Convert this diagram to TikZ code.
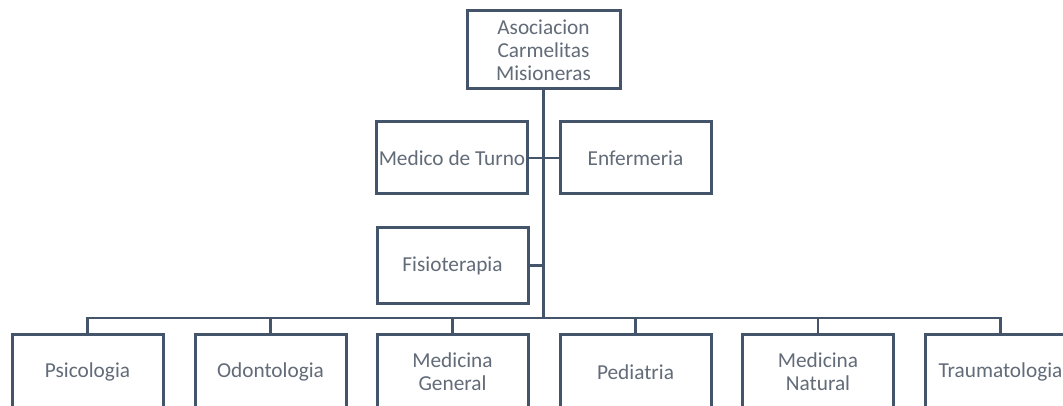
\documentclass[tikz,border=0pt]{standalone}
\usepackage{fontspec}
\setmainfont{Carlito}
\usepackage{tikz}
\definecolor{boxline}{HTML}{44546A}
\definecolor{boxtext}{HTML}{626B78}

\begin{document}
\begin{tikzpicture}[x=1pt,y=-1pt,
    unit/.style={draw=boxline,line width=3pt,fill=white,text=boxtext,
      minimum width=151pt,minimum height=75pt,inner sep=0pt,align=center,
      font=\fontsize{21.3}{23}\selectfont},
    link/.style={draw=boxline,line width=2.6pt}]
    \clip (0,0) rectangle (1063,406);
    \node[unit,minimum width=153pt,minimum height=78pt] (asoc) at (543.5,50)
    {Asociacion\\Carmelitas\\Misioneras}; \node[unit,minimum height=72pt]
    (medico) at (452,158) {Medico de Turno}; \node[unit,minimum height=72pt]
    (enfer) at (635.5,158) {Enfermeria}; \node[unit] (fisio) at (452.5,265.5)
    {Fisioterapia}; \coordinate (bus) at (543.5,318);
    \draw[link] (asoc.south) -- (bus); \draw[link] (medico.east) --
    (enfer.west); \draw[link] (fisio.east) -- (fisio.east -| bus);
    \foreach\name/\x/\txt in{psico/87.5/Psicologia,odonto/270.5/Odontologia,
      medgen/452.5/{Medicina\\General},pedia/635.5/Pediatria,
      mednat/818/{Medicina\\Natural},trauma/1000.5/Traumatologia}{
      \node[unit] (\name) at (\x,372) {\txt};
      \draw[link] (bus) -| (\name.north);};
  \end{tikzpicture}
\end{document}
